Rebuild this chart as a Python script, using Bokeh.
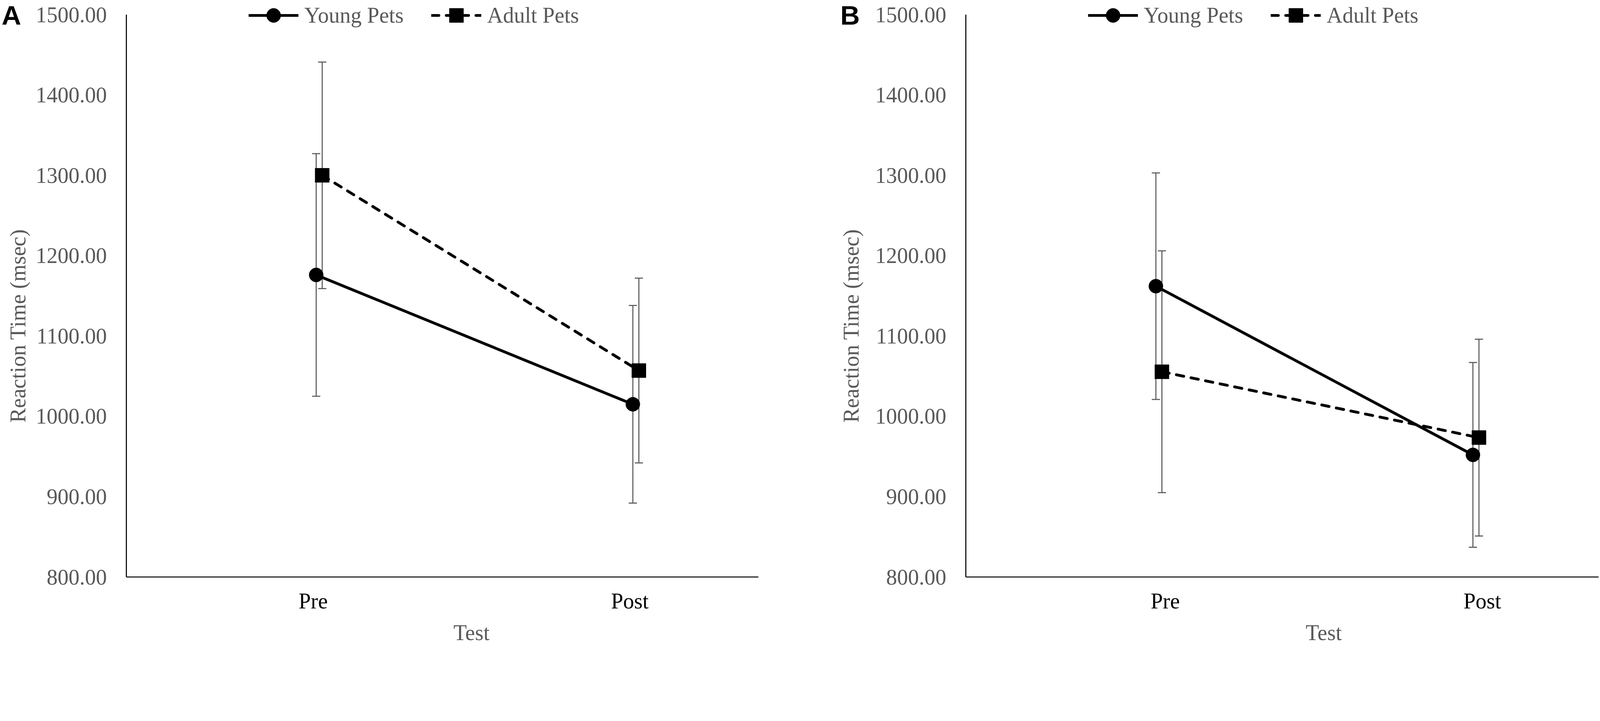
import numpy as np
from bokeh.plotting import figure
from bokeh.layouts import row
from bokeh.models import (ColumnDataSource, Whisker, TeeHead, Legend, LegendItem, Label, Title,
                          FixedTicker, PrintfTickFormatter, Range1d, CustomJSTickFormatter)
from bokeh.embed import file_html
from bokeh.resources import INLINE

# ---------------- data ----------------
categories = ["Pre", "Post"]
series_names = ["Young Pets", "Adult Pets"]
y_ticks = [800, 900, 1000, 1100, 1200, 1300, 1400, 1500]
x_title = "Test"
y_title = "Reaction Time (msec)"

# Panel A
young_mean_a = [1176.0, 1015.0]
young_err_a = [151.0, 123.0]
adult_mean_a = [1300.0, 1057.0]
adult_err_a = [141.0, 115.0]

# Panel B
young_mean_b = [1162.0, 952.0]
young_err_b = [141.0, 115.0]
adult_mean_b = [1055.5, 973.5]
adult_err_b = [150.5, 122.5]

GRAY = "#595959"
SERIF = "Liberation Serif"
FS = "56px"
Y_TOP = 1518.0   # frame reaches the top of the figure; axis line bounded at 1500


def make_panel(letter, ym, ye, am, ae, width, border_left, border_right,
               tick_shift, ytitle_standoff, letter_side, letter_x):
    p = figure(width=width, height=1650,
               x_range=Range1d(0.391, 2.387), y_range=Range1d(800, Y_TOP),
               output_backend="svg", toolbar_location=None,
               min_border_left=border_left, min_border_right=border_right,
               min_border_top=0, min_border_bottom=174)
    p.outline_line_color = None
    p.xgrid.visible = False
    p.ygrid.visible = False
    p.background_fill_color = "white"

    xpos = np.arange(1, len(categories) + 1, dtype=float)
    xy = xpos - 0.0095
    xa = xpos + 0.0095

    ym = np.array(ym); ye = np.array(ye); am = np.array(am); ae = np.array(ae)

    src_y = ColumnDataSource(dict(x=xy, y=ym, upper=ym + ye, lower=ym - ye))
    src_a = ColumnDataSource(dict(x=xa, y=am, upper=am + ae, lower=am - ae))

    for src in (src_y, src_a):
        w = Whisker(source=src, base="x", upper="upper", lower="lower",
                    line_color=GRAY, line_width=2.7, level="underlay",
                    upper_head=TeeHead(size=21, line_color=GRAY, line_width=2.7),
                    lower_head=TeeHead(size=21, line_color=GRAY, line_width=2.7))
        p.add_layout(w)

    yl = p.line("x", "y", source=src_y, line_width=7.2, line_color="black")
    al = p.line("x", "y", source=src_a, line_width=7.2, line_color="black",
                line_dash="19 19", line_cap="round")
    ys = p.scatter("x", "y", source=src_y, marker="circle", size=36,
                   fill_color="black", line_color="black")
    as_ = p.scatter("x", "y", source=src_a, marker="square", size=36,
                    fill_color="black", line_color="black")

    legend = Legend(items=[LegendItem(label=series_names[0], renderers=[yl, ys]),
                           LegendItem(label=series_names[1], renderers=[al, as_])],
                    location=(313, 1392), orientation="horizontal",
                    glyph_width=128, glyph_height=90, label_standoff=15,
                    spacing=71, padding=0, margin=0,
                    background_fill_alpha=0, border_line_color=None,
                    label_text_font=SERIF, label_text_font_size=FS,
                    label_text_color=GRAY)
    p.add_layout(legend)

    # axes
    for ax in (p.xaxis[0], p.yaxis[0]):
        ax.axis_line_color = "black"
        ax.axis_line_width = 2.7
        ax.major_tick_line_color = None
        ax.minor_tick_line_color = None
        ax.major_tick_out = 0
        ax.major_tick_in = 0
        ax.major_label_text_font = SERIF
        ax.major_label_text_font_size = FS

    p.yaxis.ticker = FixedTicker(ticks=y_ticks)
    p.yaxis.bounds = (y_ticks[0], y_ticks[-1])
    p.yaxis.formatter = PrintfTickFormatter(format="%.2f")
    p.yaxis.major_label_text_color = GRAY
    p.yaxis.major_label_standoff = 50

    p.xaxis.ticker = FixedTicker(ticks=list(xpos + tick_shift))
    p.xaxis.formatter = CustomJSTickFormatter(args=dict(labels=categories),
                                              code="return labels[index];")
    p.xaxis.major_label_text_color = "black"
    p.xaxis.major_label_standoff = 30

    # y title: side-panel title, shifted along the axis like the original
    p.add_layout(Title(text=y_title, align="left", offset=395, vertical_align="bottom",
                       standoff=ytitle_standoff, text_font=SERIF, text_font_size=FS,
                       text_font_style="normal", text_color=GRAY), "left")

    # x title (placed in the lower side panel so that it is not clipped)
    p.add_layout(Label(x=1.5 + tick_shift, y=730.9, text=x_title,
                       text_align="center", text_baseline="middle",
                       text_font=SERIF, text_font_size=FS, text_color=GRAY), "below")
    # panel letter
    p.add_layout(Label(x=letter_x, y=Y_TOP, text=letter,
                       text_align="center", text_baseline="top",
                       text_font="Liberation Sans", text_font_style="bold",
                       text_font_size="69px", text_color="black"), letter_side)
    return p


pa = make_panel("A", young_mean_a, young_err_a, adult_mean_a, adult_err_a,
                width=2052, border_left=321, border_right=111,
                tick_shift=-0.019, ytitle_standoff=24, letter_side="right", letter_x=0.028)
pb = make_panel("B", young_mean_b, young_err_b, adult_mean_b, adult_err_b,
                width=2041, border_left=420, border_right=1,
                tick_shift=0.02, ytitle_standoff=56, letter_side="left", letter_x=0.026)

layout = row(pa, pb)
open("out.html", "w").write(file_html(layout, INLINE))
